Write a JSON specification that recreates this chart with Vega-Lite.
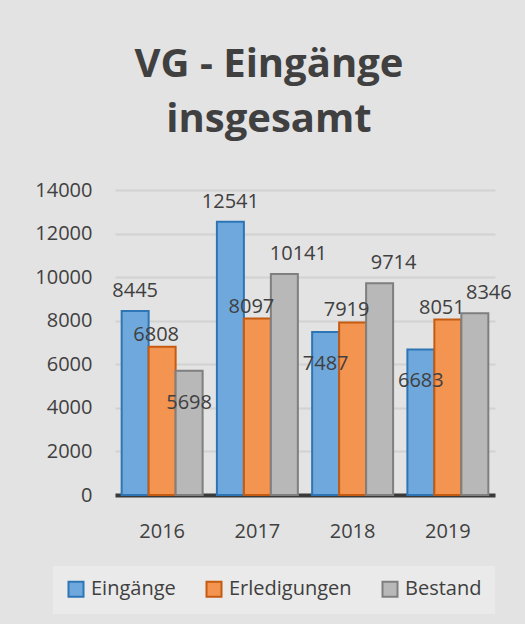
{
  "$schema": "https://vega.github.io/schema/vega-lite/v6.json",
  "width": 380,
  "height": 305,
  "autosize": {"type": "none"},
  "padding": {"left": 115, "top": 190, "right": 30, "bottom": 129},
  "background": "#e3e3e3",
  "title": {
    "text": ["VG - Eingänge", "insgesamt"],
    "font": "Open Sans",
    "fontSize": 40,
    "fontWeight": "bold",
    "color": "#404040",
    "lineHeight": 55,
    "anchor": "middle",
    "dx": -36,
    "offset": 40
  },
  "config": {
    "view": {"stroke": null},
    "font": "Open Sans"
  },
  "data": {
    "values": [
      {"year": "2016", "series": "Eingänge", "value": 8445},
      {"year": "2016", "series": "Erledigungen", "value": 6808},
      {"year": "2016", "series": "Bestand", "value": 5698},
      {"year": "2017", "series": "Eingänge", "value": 12541},
      {"year": "2017", "series": "Erledigungen", "value": 8097},
      {"year": "2017", "series": "Bestand", "value": 10141},
      {"year": "2018", "series": "Eingänge", "value": 7487},
      {"year": "2018", "series": "Erledigungen", "value": 7919},
      {"year": "2018", "series": "Bestand", "value": 9714},
      {"year": "2019", "series": "Eingänge", "value": 6683},
      {"year": "2019", "series": "Erledigungen", "value": 8051},
      {"year": "2019", "series": "Bestand", "value": 8346}
    ]
  },
  "encoding": {
    "x": {
      "field": "year",
      "type": "nominal",
      "scale": {"paddingInner": 0.15, "paddingOuter": 0.07},
      "axis": {
        "title": null,
        "labelAngle": 0,
        "labelFont": "Open Sans",
        "labelFontSize": 20,
        "labelColor": "#404040",
        "labelPadding": 26,
        "ticks": false,
        "domainColor": "#3a3a3a",
        "domainWidth": 4
      }
    },
    "xOffset": {
      "field": "series",
      "type": "nominal",
      "sort": ["Eingänge", "Erledigungen", "Bestand"],
      "scale": {"paddingInner": 0}
    },
    "y": {
      "field": "value",
      "type": "quantitative",
      "scale": {"domain": [0, 14000], "nice": false},
      "axis": {
        "title": null,
        "values": [0, 2000, 4000, 6000, 8000, 10000, 12000, 14000],
        "format": "d",
        "labelFont": "Open Sans",
        "labelFontSize": 20,
        "labelColor": "#404040",
        "labelPadding": 23,
        "domain": false,
        "ticks": false,
        "gridColor": "#d2d2d2",
        "gridWidth": 2
      }
    },
    "text": {"field": "value", "type": "quantitative", "format": "d"}
  },
  "layer": [
    {
      "mark": {"type": "bar", "strokeWidth": 2},
      "encoding": {
        "text": null,
        "color": {
          "field": "series",
          "type": "nominal",
          "scale": {
            "domain": ["Eingänge", "Erledigungen", "Bestand"],
            "range": ["#6fa8dc", "#f39550", "#b8b8b8"]
          },
          "legend": {
            "title": null,
            "orient": "none",
            "legendX": -62,
            "legendY": 376,
            "direction": "horizontal",
            "padding": 13,
            "fillColor": "#eaeaea",
            "symbolType": "square",
            "symbolSize": 225,
            "symbolStrokeWidth": 2,
            "symbolOpacity": 1,
            "labelFont": "Open Sans",
            "labelFontSize": 20,
            "labelColor": "#404040",
            "labelOffset": 5,
            "columnPadding": 26,
            "encode": {
              "symbols": {
                "update": {
                  "stroke": {"scale": "stroke", "field": "value"}
                }
              }
            }
          }
        },
        "stroke": {
          "field": "series",
          "type": "nominal",
          "scale": {
            "domain": ["Eingänge", "Erledigungen", "Bestand"],
            "range": ["#2e75b6", "#c55a11", "#7f7f7f"]
          },
          "legend": null
        }
      }
    },
    {
      "transform": [{"filter": "datum.series == 'Erledigungen'"}],
      "mark": {"type": "text", "dy": -12, "dx": -6, "font": "Open Sans", "fontSize": 20, "color": "#404040"}
    },
    {
      "transform": [{"filter": "datum.series == 'Eingänge' && datum.value >= 7500"}],
      "mark": {"type": "text", "dy": -20, "font": "Open Sans", "fontSize": 20, "color": "#404040"}
    },
    {
      "transform": [{"filter": "datum.series == 'Bestand' && datum.value >= 7500"}],
      "mark": {"type": "text", "dy": -20, "dx": 14, "font": "Open Sans", "fontSize": 20, "color": "#404040"}
    },
    {
      "transform": [{"filter": "datum.series != 'Erledigungen' && datum.value < 7500"}],
      "mark": {"type": "text", "dy": 32, "font": "Open Sans", "fontSize": 20, "color": "#404040"}
    }
  ]
}
